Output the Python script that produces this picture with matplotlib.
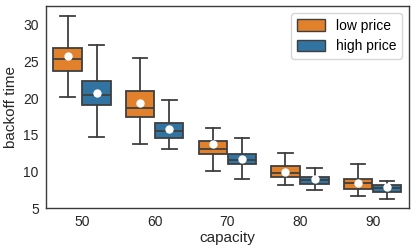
import matplotlib
matplotlib.use("Agg")
import matplotlib.pyplot as plt
from matplotlib.patches import Patch

categories = ["50", "60", "70", "80", "90"]
hues = ["low price", "high price"]
colors = ["#e1812c", "#3274a1"]

# per category: [whislo, q1, median, q3, whishi, mean]
low_whislo = [20.1, 13.8, 10.1, 8.2, 6.7]
low_q1 = [23.7, 17.4, 12.4, 9.2, 7.6]
low_med = [25.3, 18.6, 13.1, 9.8, 8.4]
low_q3 = [26.8, 21.0, 14.1, 10.7, 9.0]
low_whishi = [31.2, 25.4, 15.9, 12.5, 11.0]
low_mean = [25.7, 19.35, 13.7, 10.0, 8.45]

high_whislo = [14.7, 13.05, 9.0, 7.5, 6.26]
high_q1 = [19.1, 14.6, 11.0, 8.35, 7.26]
high_med = [20.4, 15.5, 11.55, 8.8, 7.75]
high_q3 = [22.35, 16.65, 12.45, 9.3, 8.13]
high_whishi = [27.2, 19.7, 14.5, 10.45, 8.67]
high_mean = [20.75, 15.8, 11.65, 9.0, 7.93]

plt.rcParams["font.family"] = ["Liberation Sans", "DejaVu Sans"]
fig = plt.figure(figsize=(4.16, 2.52), dpi=100)
ax = fig.add_axes([0.11, 0.173, 0.873, 0.803])

series = [
    (low_whislo, low_q1, low_med, low_q3, low_whishi, low_mean),
    (high_whislo, high_q1, high_med, high_q3, high_whishi, high_mean),
]
lc = "#3f3f3f"
width = 0.4
for h, (wlo, q1, med, q3, whi, mn) in enumerate(series):
    stats = []
    for i in range(len(categories)):
        stats.append(dict(whislo=wlo[i], q1=q1[i], med=med[i], q3=q3[i],
                          whishi=whi[i], mean=mn[i], fliers=[]))
    pos = [i + (h - 0.5) * width for i in range(len(categories))]
    ax.bxp(stats, positions=pos, widths=width * 0.98, patch_artist=True,
           showmeans=True, showfliers=False, manage_ticks=False,
           boxprops=dict(facecolor=colors[h], edgecolor=lc, linewidth=1.3),
           medianprops=dict(color=lc, linewidth=1.3),
           whiskerprops=dict(color=lc, linewidth=1.3),
           capprops=dict(color=lc, linewidth=1.3),
           capwidths=width * 0.5,
           meanprops=dict(marker="o", markerfacecolor="white",
                          markeredgecolor="white", markersize=5))

ax.set_xlim(-0.5, len(categories) - 0.5)
ax.set_xticks(range(len(categories)))
ax.set_xticklabels(categories)
ax.set_ylim(5, 32.5)
ax.set_yticks([5, 10, 15, 20, 25, 30])
ax.tick_params(labelsize=10, length=0, pad=5, colors="#262626")
ax.set_xlabel("capacity", fontsize=11, color="#262626", labelpad=1)
ax.set_ylabel("backoff time", fontsize=11, color="#262626", labelpad=4)
for s in ax.spines.values():
    s.set_color("#3a3a3a")
    s.set_linewidth(1.0)

handles = [Patch(facecolor=colors[i], edgecolor=lc, linewidth=1.0, label=hues[i])
           for i in range(2)]
ax.legend(handles=handles, loc="upper right", fontsize=10, frameon=True,
          edgecolor="#cccccc", handlelength=2.0, handleheight=0.9)

fig.savefig("out.png", dpi=100)
